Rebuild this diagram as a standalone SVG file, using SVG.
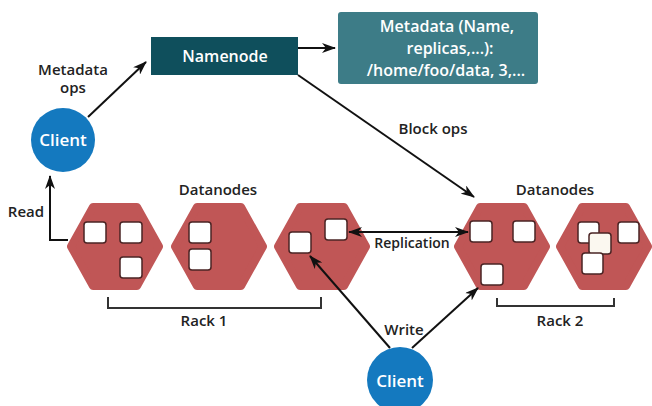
<svg xmlns="http://www.w3.org/2000/svg" width="652" height="406" viewBox="0 0 652 406">
<style>
.t{font-family:"Open Sans","Liberation Sans",sans-serif;font-weight:600;fill:#222;font-size:15px;text-anchor:middle}
.w{fill:#fff}
.ln{stroke:#111;stroke-width:2;fill:none}
.hex{fill:#c05656;stroke:#c05656;stroke-width:8;stroke-linejoin:round}
.sq{fill:#fff;stroke:#4a2424;stroke-width:1.5}
.br{stroke:#333;stroke-width:2;fill:none}
</style>
<defs>
<marker id="arr" viewBox="0 0 14 10" markerWidth="14" markerHeight="10" refX="13" refY="5" orient="auto-start-reverse" markerUnits="userSpaceOnUse">
<path d="M0,0 L14,5 L0,10 L4,5 z" fill="#111"/>
</marker>
<polygon id="hexshape" points="-44,0 -22,-39.5 22,-39.5 44,0 22,39.5 -22,39.5"/>
</defs>
<rect width="652" height="406" fill="#fff"/>

<g id="namenode">
<rect x="151" y="37" width="147" height="38" fill="#0f4f5c"/>
<text class="t w" x="225" y="62" style="font-size:16px">Namenode</text>
</g>

<g id="metadata">
<rect x="338" y="12" width="200" height="72" rx="3" fill="#3d7c87"/>
<text class="t w" x="447" y="32" style="font-size:16px">Metadata (Name,</text>
<text class="t w" x="450" y="54" style="font-size:16px">replicas,...):</text>
<text class="t w" x="446" y="76" style="font-size:16px">/home/foo/data, 3,...</text>
</g>

<g id="client-top">
<circle cx="63" cy="140" r="32" fill="#1479bf"/>
<text class="t w" x="63" y="146" style="font-size:17px">Client</text>
</g>

<g id="client-bottom">
<circle cx="400" cy="380" r="33" fill="#1479bf"/>
<text class="t w" x="400" y="387" style="font-size:17px">Client</text>
</g>

<g id="dn1">
<use href="#hexshape" class="hex" x="115" y="246.5"/>
<rect class="sq" x="84" y="222" width="22" height="21" rx="3"/>
<rect class="sq" x="120" y="222" width="22" height="21" rx="3"/>
<rect class="sq" x="120" y="257" width="22" height="21" rx="3"/>
</g>
<g id="dn2">
<use href="#hexshape" class="hex" x="219" y="246.5"/>
<rect class="sq" x="189" y="222" width="22" height="21" rx="3"/>
<rect class="sq" x="189" y="249" width="22" height="21" rx="3"/>
</g>
<g id="dn3">
<use href="#hexshape" class="hex" x="322" y="246.5"/>
<rect class="sq" x="289" y="232" width="22" height="21" rx="3"/>
<rect class="sq" x="325" y="219" width="22" height="21" rx="3"/>
</g>
<g id="dn4">
<use href="#hexshape" class="hex" x="502" y="246.5"/>
<rect class="sq" x="470" y="221" width="22" height="21" rx="3"/>
<rect class="sq" x="513" y="221" width="22" height="21" rx="3"/>
<rect class="sq" x="481" y="264" width="22" height="21" rx="3"/>
</g>
<g id="dn5">
<use href="#hexshape" class="hex" x="604" y="246.5"/>
<rect class="sq" x="578" y="222" width="21" height="21" rx="3"/>
<rect class="sq" x="589" y="233" width="22" height="21" rx="3" style="fill:#fbf8f0"/>
<rect class="sq" x="582" y="253" width="21" height="21" rx="3"/>
<rect class="sq" x="618" y="222" width="21" height="21" rx="3"/>
</g>

<g id="connectors">
<line class="ln" x1="88" y1="117" x2="146" y2="62" marker-end="url(#arr)"/>
<line class="ln" x1="298" y1="48" x2="335" y2="48" marker-end="url(#arr)"/>
<line class="ln" x1="298" y1="75" x2="474" y2="197" marker-end="url(#arr)"/>
<polyline class="ln" points="68,240 50,240 50,176" marker-end="url(#arr)"/>
<line class="ln" x1="349" y1="232" x2="468" y2="232" marker-start="url(#arr)" marker-end="url(#arr)"/>
<line class="ln" x1="390" y1="348" x2="310" y2="256" marker-end="url(#arr)"/>
<line class="ln" x1="412" y1="348" x2="478" y2="288" marker-end="url(#arr)"/>
</g>

<g id="brackets">
<path class="br" d="M108,297 V308 H321 V297"/>
<path class="br" d="M497,298 V306 H614 V298"/>
</g>

<g id="labels">
<text class="t" x="73" y="75">Metadata</text>
<text class="t" x="73" y="93">ops</text>
<text class="t" x="433" y="134">Block ops</text>
<text class="t" x="26" y="217">Read</text>
<text class="t" x="218" y="195">Datanodes</text>
<text class="t" x="555" y="195">Datanodes</text>
<text class="t" x="412" y="248" style="font-size:14px">Replication</text>
<text class="t" x="204" y="326">Rack 1</text>
<text class="t" x="560" y="326">Rack 2</text>
<text class="t" x="404" y="335">Write</text>
</g>
</svg>
